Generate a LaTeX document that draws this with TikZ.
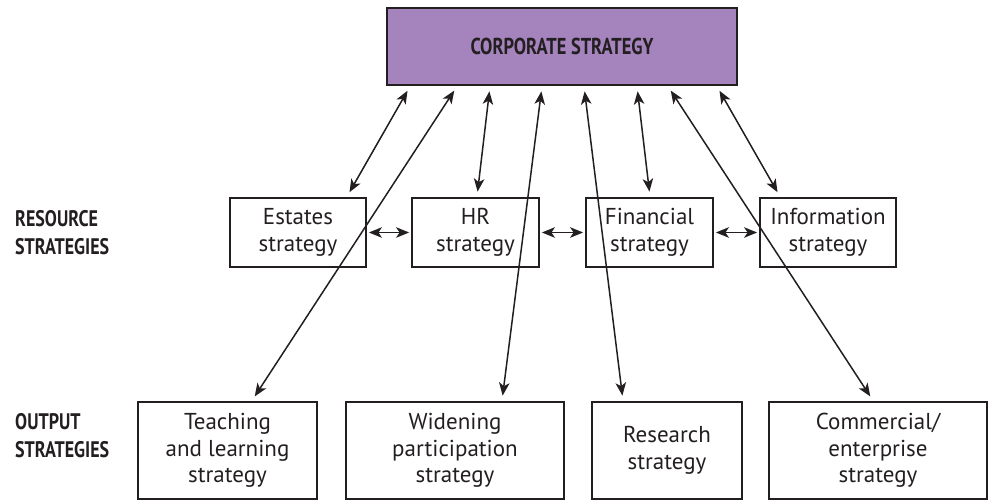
\documentclass[tikz,border=0pt]{standalone}
\usepackage{fontspec}
\setmainfont{PT Sans}
\newfontfamily\headfont[FakeStretch=0.8]{PT Sans}
\usetikzlibrary{arrows.meta}
\definecolor{corppurple}{RGB}{165,132,189}
\definecolor{ink}{RGB}{35,31,32}
\begin{document}
\begin{tikzpicture}[x=1pt, y=-1pt,
        box/.style = {draw=ink, line width=2.8pt, align=center, inner sep=0pt, text=ink, font=\fontsize{23}{26.5}\selectfont},
        head/.style = {anchor=west, align=left, inner sep=0pt, text=ink, font=\headfont\bfseries\fontsize{22.5}{28}\selectfont},
        link/.style = {draw=ink, line width=1.5pt, {Stealth[length=13pt,width=10.5pt,inset=3.5pt]}-{Stealth[length=13pt,width=10.5pt,inset=3.5pt]}, shorten <=5pt, shorten >=5pt},
        side/.style = {link, shorten <=1.5pt, shorten >=1.5pt}]
    \useasboundingbox (0,0) rectangle (995,502);
    % top
    \node[box, fill=corppurple, minimum width=350pt, minimum height=77pt, font=\headfont\bfseries\fontsize{23}{26}\selectfont] (corp) at (562,46.5) {CORPORATE STRATEGY};
    % resource strategies
    \node[head] (reslbl) at (15,233) {RESOURCE\\STRATEGIES};
    \node[box, minimum width=136pt, minimum height=69pt] (est) at (298,232.5) {Estates\\strategy};
    \node[box, minimum width=127pt, minimum height=69pt] (hr) at (475.5,232.5) {HR\\strategy};
    \node[box, minimum width=127pt, minimum height=69pt] (fin) at (649.5,232.5) {Financial\\strategy};
    \node[box, minimum width=136pt, minimum height=69pt] (inf) at (828,232.5) {Information\\strategy};
    % output strategies
    \node[head] (outlbl) at (15,435.5) {OUTPUT\\STRATEGIES};
    \node[box, minimum width=179pt, minimum height=97pt] (teach) at (227.5,450.5) {Teaching\\and learning\\strategy};
    \node[box, minimum width=218pt, minimum height=97pt] (wide) at (455,450.5) {Widening\\participation\\strategy};
    \node[box, minimum width=150pt, minimum height=97pt] (res) at (667,450.5) {Research\\strategy};
    \node[box, minimum width=218pt, minimum height=97pt] (com) at (878,450.5) {Commercial/\\enterprise\\strategy};
    % links to corporate strategy
    \draw[link] ([xshift=-152pt]corp.south) -- ([xshift=49pt]est.north);
    \draw[link] ([xshift=-72pt]corp.south) -- ([xshift=1.5pt]hr.north);
    \draw[link] ([xshift=75pt]corp.south) -- ([xshift=0.5pt]fin.north);
    \draw[link] ([xshift=155pt]corp.south) -- ([xshift=-48pt]inf.north);
    \draw[link] ([xshift=-105pt]corp.south) -- ([xshift=24.5pt]teach.north);
    \draw[link] ([xshift=-20pt]corp.south) -- ([xshift=47pt]wide.north);
    \draw[link] ([xshift=22pt]corp.south) -- ([xshift=-44pt]res.north);
    \draw[link] ([xshift=106pt]corp.south) -- ([xshift=-5pt]com.north);
    % links between resource strategies
    \draw[side] (est) -- (hr);
    \draw[side] (hr) -- (fin);
    \draw[side] (fin) -- (inf);
\end{tikzpicture}
\end{document}
